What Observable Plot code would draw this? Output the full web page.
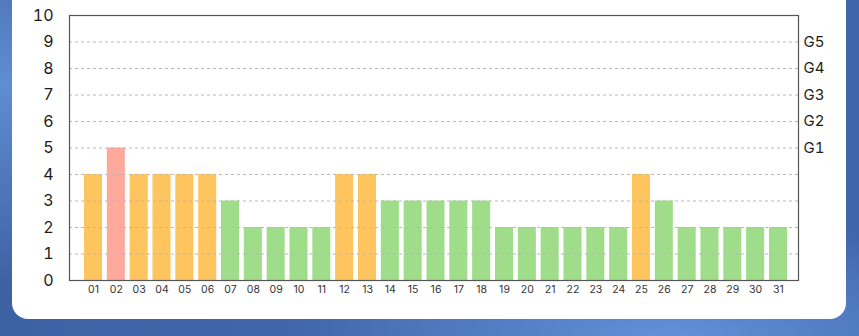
<!DOCTYPE html>
<html><head><meta charset="utf-8">
<script src="https://cdn.jsdelivr.net/npm/d3@7"></script>
<script src="https://cdn.jsdelivr.net/npm/@observablehq/plot@0.6"></script>
<style>
html,body{margin:0;padding:0;width:859px;height:336px;overflow:hidden;}
body{position:relative;background:
 radial-gradient(ellipse 300px 200px at 0% 25%, rgba(100,145,215,0.9), rgba(100,145,215,0) 100%),
 radial-gradient(ellipse 380px 120px at 78% 100%, rgba(98,144,216,1), rgba(98,144,216,0) 100%),
 linear-gradient(90deg,#3d62a4 0%,#4268ac 50%,#3f65ab 100%);}
#card{position:absolute;left:12px;top:-20px;width:834px;height:339px;background:#fff;border-radius:16px;}
#chart{position:absolute;left:0;top:0;}
</style></head>
<body><div id="card"></div><div id="chart"></div>
<script>
const days = ["01","02","03","04","05","06","07","08","09","10","11","12","13","14","15","16","17","18","19","20","21","22","23","24","25","26","27","28","29","30","31"];
const values = [4,5,4,4,4,4,3,2,2,2,2,4,4,3,3,3,3,3,2,2,2,2,2,2,4,3,2,2,2,2,2];
const yTicks = [0,1,2,3,4,5,6,7,8,9,10];
const gridTicks = [1,2,3,4,5,6,7,8,9];
const gTicks = [5,6,7,8,9];
const gLabels = ["G1","G2","G3","G4","G5"];
const colorOf = v => v >= 5 ? "#ffa99d" : v >= 4 ? "#fec55f" : "#9fdd8b";

const data = days.map((d,i)=>({day:d, value:values[i]}));
const font = "Inter, 'Open Sans', sans-serif";

const chart = Plot.plot({
  width: 859, height: 336,
  marginLeft: 69, marginRight: 61, marginTop: 15, marginBottom: 56,
  style: {background: "transparent", fontFamily: font, overflow: "visible"},
  x: {type: "band", domain: days, paddingInner: 0.21, paddingOuter: 0, round: false, insetLeft: 15, insetRight: 11, label: null},
  y: {domain: [0,10], label: null},
  marks: [
    Plot.barY(data, {x: "day", y: "value", fill: d => colorOf(d.value)}),
    Plot.ruleY(gridTicks, {stroke: "#b8b8b8", strokeDasharray: "3,3", strokeWidth: 1}),
    Plot.frame({stroke: "#555", strokeWidth: 1.2}),
    Plot.axisY({ticks: yTicks, tickSize: 0, tickPadding: 16, fontSize: 16, fill: "#1c1c1c", label: null}),
    Plot.axisY({anchor: "right", ticks: gTicks, tickFormat: d => gLabels[d-5], tickSize: 0, tickPadding: 5, fontSize: 15, fill: "#1c1c1c", label: null}),
    Plot.axisX({tickSize: 0, tickPadding: 5, fontSize: 10.5, fill: "#333", label: null})
  ]
});
document.getElementById("chart").appendChild(chart);
</script></body></html>
